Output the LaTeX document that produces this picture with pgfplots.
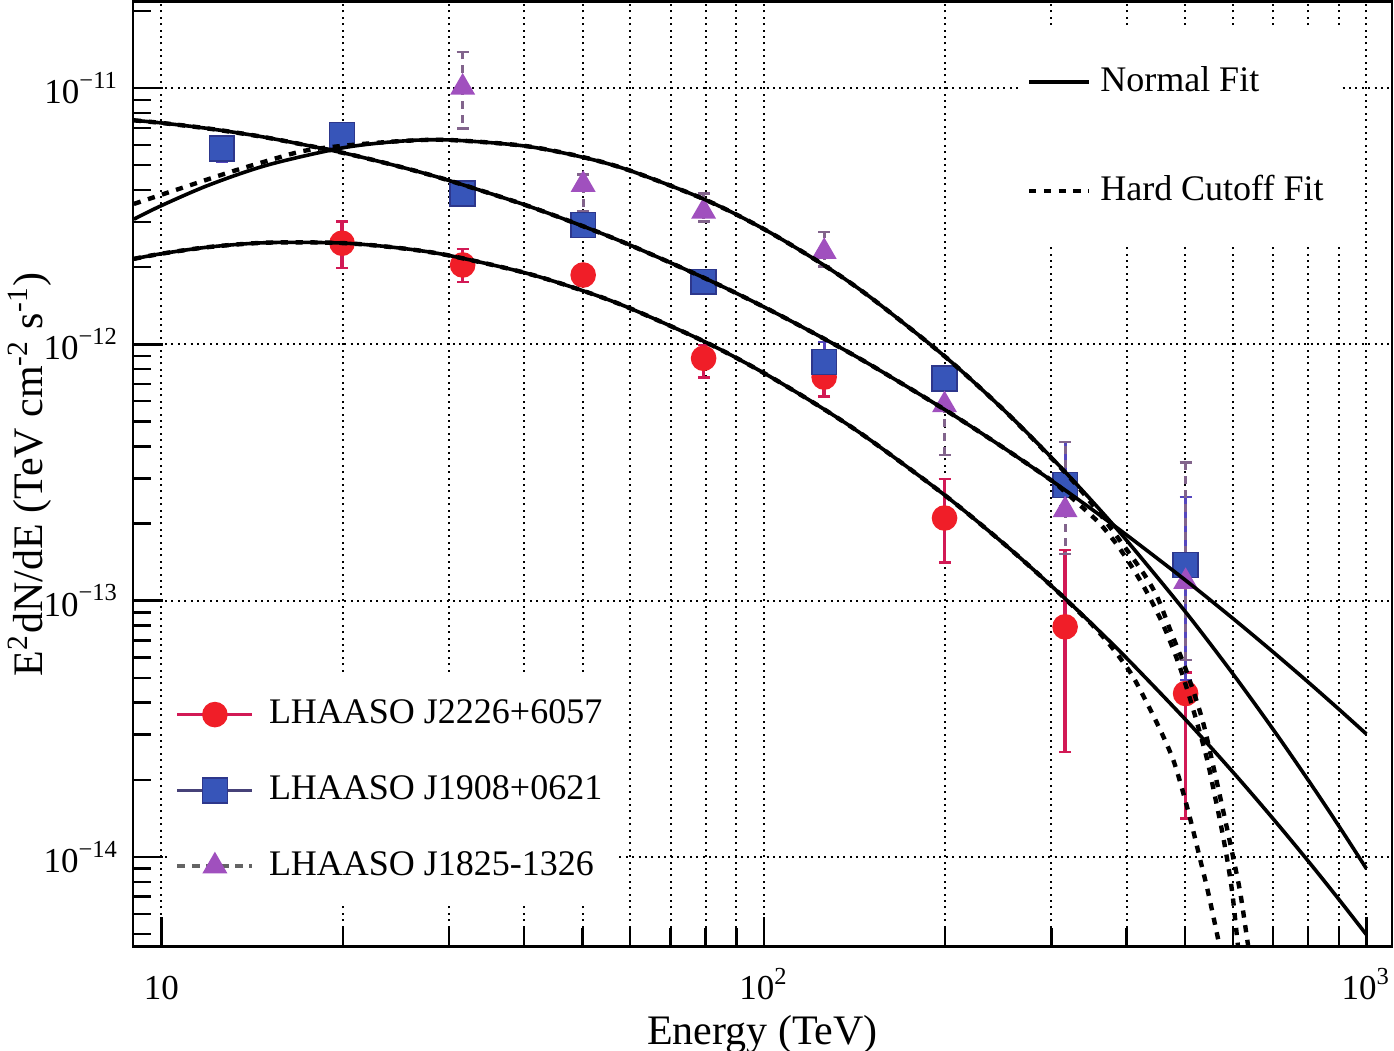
\documentclass[border=0pt]{standalone}
\usepackage{fontspec}
\setmainfont{Liberation Serif}
\usepackage{pgfplots}
\pgfplotsset{compat=1.18}

\definecolor{mred}{RGB}{240,30,40}
\definecolor{ebred}{RGB}{210,25,85}
\definecolor{mblue}{RGB}{55,85,185}
\definecolor{mblueedge}{RGB}{45,55,140}
\definecolor{ebblue}{RGB}{85,70,190}
\definecolor{mpurple}{RGB}{160,80,190}
\definecolor{ebpurple}{RGB}{130,100,140}
\definecolor{lgblue}{RGB}{70,65,120}
\definecolor{lggrey}{RGB}{100,100,100}

\begin{document}
\begin{tikzpicture}
\begin{axis}[name=main,
  scale only axis, width=314.75pt, height=236.3pt,
  xmode=log, ymode=log,
  xmin=8.97, xmax=1103, ymin=4.46e-15, ymax=2.175e-11,
  axis line style={line width=0.7pt},
  tick align=inside, xtick pos=bottom, ytick pos=left,
  xtick={10,100,1000},
  xticklabels={10,10\textsuperscript{2},10\textsuperscript{3}},
  minor xtick={20,30,40,50,60,70,80,90,200,300,400,500,600,700,800,900},
  ytick={1e-14,1e-13,1e-12,1e-11},
  yticklabels={10\textsuperscript{−14},10\textsuperscript{−13},10\textsuperscript{−12},10\textsuperscript{−11}},
  minor ytick={5e-15,6e-15,7e-15,8e-15,9e-15,2e-14,3e-14,4e-14,5e-14,6e-14,7e-14,8e-14,9e-14,2e-13,3e-13,4e-13,5e-13,6e-13,7e-13,8e-13,9e-13,2e-12,3e-12,4e-12,5e-12,6e-12,7e-12,8e-12,9e-12,2e-11},
  major tick length=7.5pt, minor tick length=4.6pt,
  every tick/.style={black, line width=0.6pt},
  xmajorgrids, xminorgrids, ymajorgrids,
  grid style={black, line width=0.5pt, dash pattern=on 0.5pt off 1.1pt},
  tick label style={font=\fontsize{8.75}{10}\selectfont},
  xticklabel style={anchor=base, yshift=-13.3pt},
  xlabel={Energy (TeV)},
  ylabel={E\textsuperscript{2}dN/dE (TeV cm\textsuperscript{-2} s\textsuperscript{-1})},
  label style={font=\fontsize{10.5}{12}\selectfont},
  xlabel style={at={(axis description cs:0.5,-0.103)}, anchor=base},
  ylabel style={at={(axis description cs:-0.0715,0.5)}, anchor=base},
  legend cell align=left,
  legend style={at={(axis description cs:0.0278,0.2877)}, anchor=north west,
    draw=none, fill=white, font=\fontsize{9}{10.8}\selectfont,
    inner xsep=1.75pt, inner ysep=4pt, row sep=7.45pt, column sep=1.75pt},
]
% LHAASO J2226+6057
\addplot[only marks, mark=*, mark size=3pt, color=mred,
  legend image code/.code={
    \draw[line width=0.8pt, ebred] (0pt,0pt) -- (18.75pt,0pt);
    \fill[mred] (9.375pt,0pt) circle (3pt);},
  error bars/.cd, y dir=both, y explicit,
  error bar style={ebred, line width=0.9pt},
  error mark options={rotate=90, mark size=1.5pt, ebred, line width=0.6pt}]
coordinates {
(19.95,2.48e-12) += (0,0.53e-12) -= (0,0.50e-12)
(31.62,2.04e-12) += (0,0.31e-12) -= (0,0.29e-12)
(50.12,1.864e-12) += (0,0.08e-12) -= (0,0.08e-12)
(79.43,8.82e-13) += (0,1.1e-13) -= (0,1.4e-13)
(125.9,7.45e-13) += (0,1.3e-13) -= (0,1.2e-13)
(199.5,2.10e-13) += (0,0.88e-13) -= (0,0.69e-13)
(316.2,7.9e-14) += (0,7.86e-14) -= (0,5.33e-14)
(501.2,4.34e-14) += (0,0.9e-14) -= (0,2.93e-14)
};
\addlegendentry{LHAASO J2226+6057}
% LHAASO J1908+0621
\addplot[only marks, mark=square*, mark size=3.1pt, color=ebblue,
  mark options={fill=mblue, draw=mblueedge},
  legend image code/.code={
    \draw[line width=0.8pt, lgblue] (0pt,0pt) -- (18.75pt,0pt);
    \filldraw[fill=mblue, draw=mblueedge] (6.275pt,-3.1pt) rectangle (12.475pt,3.1pt);},
  error bars/.cd, y dir=both, y explicit,
  error bar style={ebblue, line width=0.8pt},
  error mark options={rotate=90, mark size=1.5pt, ebblue, line width=0.6pt}]
coordinates {
(12.59,5.815e-12) += (0,0.6e-12) -= (0,0.65e-12)
(19.95,6.556e-12) += (0,0.4e-12) -= (0,0.4e-12)
(31.62,3.882e-12) += (0,0.25e-12) -= (0,0.25e-12)
(50.12,2.921e-12) += (0,0.2e-12) -= (0,0.2e-12)
(79.43,1.755e-12) += (0,0.12e-12) -= (0,0.12e-12)
(125.9,8.53e-13) += (0,1.7e-13) -= (0,1.3e-13)
(199.5,7.367e-13) += (0,0.6e-13) -= (0,0.6e-13)
(316.2,2.825e-13) += (0,1.33e-13) -= (0,0.5e-13)
(501.2,1.377e-13) += (0,1.166e-13) -= (0,0.887e-13)
};
\addlegendentry{LHAASO J1908+0621}
% LHAASO J1825-1326
\addplot[only marks, mark=triangle*, mark size=3.2pt, color=mpurple,
  legend image code/.code={
    \draw[line width=0.8pt, lggrey, dash pattern=on 2pt off 1.6pt] (0pt,0pt) -- (18.75pt,0pt);
    \fill[mpurple] (9.375pt,3.2pt) -- (6.604pt,-1.6pt) -- (12.146pt,-1.6pt) -- cycle;},
  error bars/.cd, y dir=both, y explicit,
  error bar style={ebpurple, line width=0.8pt, dash pattern=on 2pt off 1.5pt},
  error mark options={rotate=90, mark size=1.5pt, ebpurple, line width=0.6pt, solid}]
coordinates {
(31.62,1.006e-11) += (0,0.38e-11) -= (0,0.31e-11)
(50.12,4.2e-12) += (0,0.4e-12) -= (0,0.9e-12)
(79.43,3.3e-12) += (0,0.58e-12) -= (0,0.29e-12)
(125.9,2.3e-12) += (0,0.45e-12) -= (0,0.29e-12)
(199.5,5.8e-13) += (0,1.0e-13) -= (0,2.1e-13)
(316.2,2.257e-13) += (0,1.9e-13) -= (0,0.74e-13)
(501.2,1.185e-13) += (0,2.27e-13) -= (0,0.6e-13)
};
\addlegendentry{LHAASO J1825-1326}
\end{axis}

\begin{axis}[
  scale only axis, width=314.75pt, height=236.3pt,
  xmode=log, ymode=log,
  xmin=8.97, xmax=1103, ymin=4.46e-15, ymax=2.175e-11,
  hide axis,
  legend cell align=left,
  legend image code/.code={\draw[#1] (0pt,0pt) -- (15pt,0pt);},
  legend style={at={(axis description cs:0.703,0.9745)}, anchor=north west,
    draw=none, fill=white, font=\fontsize{9}{10.8}\selectfont,
    inner xsep=2pt, inner ysep=8pt, row sep=15.45pt, column sep=0.25pt},
]
% J2226 normal fit
\addplot[black, line width=0.9pt, smooth] coordinates {
(9,2.155e-12) (10,2.257e-12) (12,2.397e-12) (15,2.493e-12) (20,2.483e-12)
(25,2.371e-12) (30,2.222e-12) (40,1.905e-12) (50,1.620e-12) (60,1.381e-12)
(80,1.020e-12) (100,7.727e-13) (125,5.636e-13) (150,4.240e-13) (200,2.570e-13)
(250,1.670e-13) (300,1.142e-13) (350,8.124e-14) (400,5.962e-14) (500,3.450e-14)
(600,2.147e-14) (700,1.410e-14) (800,9.652e-15) (900,6.834e-15) (1000,4.974e-15)
};
\addlegendentry{Normal Fit}
% J2226 hard cutoff fit
\addplot[black, line width=1.1pt, dash pattern=on 1.8pt off 1.9pt, smooth] coordinates {
(9,2.155e-12) (10,2.257e-12) (12,2.397e-12) (15,2.493e-12) (20,2.483e-12)
(25,2.371e-12) (30,2.222e-12) (40,1.905e-12) (50,1.620e-12) (60,1.381e-12)
(80,1.020e-12) (100,7.727e-13) (125,5.636e-13) (150,4.240e-13) (200,2.570e-13)
(250,1.670e-13) (300,1.142e-13) (338.8,8.70e-14) (348.1,8.20e-14) (375.7,6.70e-14)
(405.6,5.25e-14) (426.3,4.25e-14) (454.9,3.128e-14) (478.1,2.388e-14) (496.7,1.775e-14)
(514.1,1.308e-14) (530.1,9.725e-15) (546.5,7.231e-15) (567.8,4.741e-15) (575.7,3.961e-15)
};
\addlegendentry{Hard Cutoff Fit}
% J1908 normal fit
\addplot[black, line width=0.9pt, smooth, forget plot] coordinates {
(9,7.481e-12) (10,7.308e-12) (12,6.942e-12) (15,6.399e-12) (20,5.589e-12)
(25,4.916e-12) (30,4.359e-12) (40,3.508e-12) (50,2.894e-12) (60,2.437e-12)
(80,1.806e-12) (100,1.399e-12) (125,1.061e-12) (150,8.339e-13) (200,5.545e-13)
(250,3.946e-13) (300,2.944e-13) (350,2.274e-13) (400,1.803e-13) (500,1.205e-13)
(600,8.531e-14) (700,6.306e-14) (800,4.814e-14) (900,3.771e-14) (1000,3.017e-14)
};
% J1908 hard cutoff fit
\addplot[black, line width=1.1pt, dash pattern=on 1.8pt off 1.9pt, smooth, forget plot] coordinates {
(9,7.481e-12) (10,7.308e-12) (12,6.942e-12) (15,6.399e-12) (20,5.589e-12)
(25,4.916e-12) (30,4.359e-12) (40,3.508e-12) (50,2.894e-12) (60,2.437e-12)
(80,1.806e-12) (100,1.399e-12) (125,1.061e-12) (150,8.339e-13) (200,5.545e-13)
(250,3.946e-13) (300,2.944e-13) (320,2.59e-13) (338.8,2.298e-13) (361.6,1.990e-13)
(385.9,1.648e-13) (410.3,1.328e-13) (432.9,1.071e-13) (460.1,8.031e-14) (485.5,5.866e-14)
(506.3,4.361e-14) (526.0,3.213e-14) (544.4,2.388e-14) (559.2,1.775e-14) (574.4,1.308e-14)
(587.7,9.725e-15) (599.1,7.231e-15) (610.7,4.741e-15) (615.3,3.961e-15)
};
% J1825 normal fit
\addplot[black, line width=0.9pt, smooth, forget plot] coordinates {
(9,3.077e-12) (10,3.478e-12) (12,4.186e-12) (15,5.007e-12) (20,5.843e-12)
(25,6.206e-12) (30,6.272e-12) (40,5.944e-12) (50,5.372e-12) (60,4.759e-12)
(80,3.662e-12) (100,2.816e-12) (125,2.056e-12) (150,1.530e-12) (200,8.94e-13)
(250,5.552e-13) (300,3.621e-13) (350,2.455e-13) (400,1.718e-13) (500,9.085e-14)
(600,5.19e-14) (700,3.148e-14) (800,2.0e-14) (900,1.321e-14) (1000,9.0e-15)
};
% J1825 hard cutoff fit
\addplot[black, line width=1.1pt, dash pattern=on 1.8pt off 1.9pt, smooth, forget plot] coordinates {
(9,3.53e-12) (11,4.13e-12) (13,4.70e-12) (15,5.20e-12) (17.2,5.68e-12)
(20,5.95e-12) (25,6.21e-12) (30,6.27e-12) (40,5.95e-12) (50,5.38e-12)
(60,4.76e-12) (80,3.662e-12) (100,2.816e-12) (125,2.056e-12) (150,1.530e-12)
(200,8.94e-13) (250,5.552e-13) (300,3.60e-13) (330,2.83e-13) (361.6,2.17e-13)
(390.4,1.71e-13) (426.3,1.281e-13) (449.7,1.033e-13) (472.6,7.678e-14) (500.5,5.458e-14)
(524.0,3.986e-14) (538.2,3.213e-14) (552.8,2.45e-14) (570.0,1.775e-14) (585.5,1.33e-14)
(601.4,9.90e-15) (617.7,7.231e-15) (634.4,4.741e-15) (641.9,3.961e-15)
};
\end{axis}
\pgfresetboundingbox
\useasboundingbox ([xshift=-33.25pt,yshift=-25.83pt]main.south west) rectangle ([xshift=0.5pt,yshift=0.375pt]main.north east);
\end{tikzpicture}
\end{document}
